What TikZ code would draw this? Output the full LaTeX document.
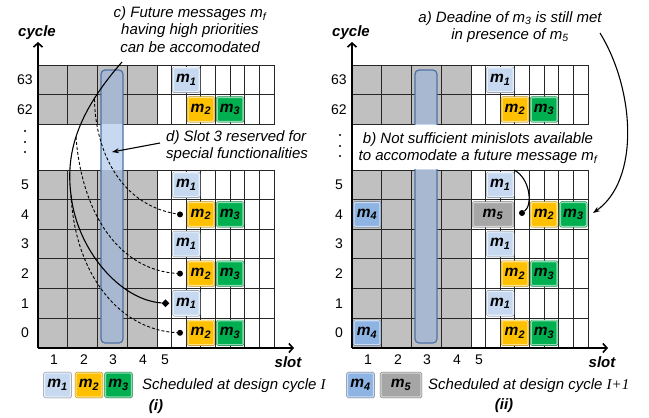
\documentclass[tikz,border=0pt]{standalone}
\usepackage{fontspec}
\setmainfont{Liberation Sans}
\newfontfamily\tnr{Liberation Serif}
\usetikzlibrary{shapes.geometric,arrows.meta,shadows}
\definecolor{mone}{RGB}{198,217,241}
\definecolor{mtwo}{RGB}{255,192,0}
\definecolor{mthree}{RGB}{0,176,80}
\definecolor{mfour}{RGB}{141,180,226}
\definecolor{mfive}{RGB}{166,166,166}
\definecolor{slotgray}{RGB}{192,192,192}
\definecolor{resL}{RGB}{199,217,241}
\definecolor{resD}{RGB}{168,184,208}
\definecolor{resB}{RGB}{79,113,165}
\newcommand{\mlab}[1]{m\textsubscript{#1}}
\tikzset{
  msg/.style={rounded corners=1.2pt, minimum height=24pt, minimum width=26pt, inner sep=0pt,
    font=\fontsize{15.5}{15.5}\selectfont\bfseries\itshape, line width=1.3pt,
    drop shadow={opacity=0.3, shadow xshift=1.2pt, shadow yshift=-1.2pt}},
  msgA/.style={msg, fill=mone, draw=mone!40!white, preaction={draw=mone!60!black, line width=2.1pt}},
  msgB/.style={msg, fill=mtwo, draw=mtwo!45!white, preaction={draw=mtwo!70!black, line width=2.1pt}},
  msgC/.style={msg, fill=mthree, draw=mthree!45!white, preaction={draw=mthree!70!black, line width=2.1pt}},
  msgD/.style={msg, fill=mfour, draw=mfour!45!white, preaction={draw=mfour!60!black, line width=2.1pt}},
  msgE/.style={msg, minimum width=40pt, fill=mfive, draw=mfive!45!white, preaction={draw=mfive!70!black, line width=2.1pt}},
  gridline/.style={draw=black!85, line width=0.8pt},
  axis/.style={line width=1.6pt, -{Straight Barb[length=4pt,width=9pt]}},
  rowlab/.style={font=\fontsize{14}{14}\selectfont, inner sep=0pt},
  axlab/.style={font=\fontsize{15}{15}\selectfont\bfseries\itshape, inner sep=0pt},
  anno/.style={font=\fontsize{15}{17.5}\selectfont\itshape, inner sep=0pt},
  dotn/.style={circle, fill=black, inner sep=0pt, minimum size=6pt},
  dian/.style={diamond, fill=black, inner sep=0pt, minimum size=8pt},
  curve/.style={line width=1.1pt},
  dcurve/.style={line width=0.9pt, dash pattern=on 3pt off 2pt},
  arr/.style={line width=1.1pt, -{Stealth[length=7pt,width=5pt]}}
}
\begin{document}
\begin{tikzpicture}[x=1pt,y=-1pt]
\useasboundingbox (0,0) rectangle (649,418);
\fill[white] (0,0) rectangle (649,418);
\foreach \P/\dx in {L/0,R/314}{
\begin{scope}[xshift=\dx pt]
  \fill[slotgray] (38,65) rectangle (157,124.2);
  \fill[slotgray] (38,170) rectangle (157,347.6);
  \foreach \x in {67.75,97.5,127.25,157,171.625,186.25,200.875,215.5,230.125,244.75,259.375}{
    \draw[gridline] (\x,65) -- (\x,124.2);
    \draw[gridline] (\x,170) -- (\x,347.6);
  }
  \draw[gridline] (38,94.6) -- (274,94.6);
  \foreach \y in {199.6,229.2,258.8,288.4,318}{\draw[gridline] (38,\y) -- (274,\y);}
  \draw[gridline, line width=1pt] (38,65) rectangle (274,124.2);
  \draw[gridline, line width=1pt] (38,170) rectangle (274,347.6);
  % reserved slot 3
  \begin{scope}
    \clip[rounded corners=4pt] (101,70) rectangle (123,343);
    \fill[resL] (101,70) rectangle (123,343);
    \fill[resD] (101,65) rectangle (123,124.2);
    \fill[resD] (101,170) rectangle (123,348);
  \end{scope}
  \draw[resB, line width=1.2pt, rounded corners=4pt] (101,70) rectangle (123,343);
  % axes
  \coordinate (\P o) at (38,348);
  \coordinate (\P yt) at (38,42);
  \coordinate (\P xt) at (294,348);
  \draw[axis] (\P o) -- (\P yt);
  \draw[axis] (\P o) -- (\P xt);
  \node[axlab] (\P cyc) at (37,33) {cycle};
  \node[axlab] (\P slot) at (288,362) {slot};
  % row labels
  \node[rowlab] (\P r63) at (25,79.8) {63};
  \node[rowlab] (\P r62) at (25,109.4) {62};
  \node[rowlab] (\P r5) at (25,184.8) {5};
  \node[rowlab] (\P r4) at (25,214.4) {4};
  \node[rowlab] (\P r3) at (25,244) {3};
  \node[rowlab] (\P r2) at (25,273.6) {2};
  \node[rowlab] (\P r1) at (25,303.2) {1};
  \node[rowlab] (\P r0) at (25,332.8) {0};
  % slot labels
  \node[rowlab] (\P s1) at (54,360) {1};
  \node[rowlab] (\P s2) at (84,360) {2};
  \node[rowlab] (\P s3) at (113,360) {3};
  \node[rowlab] (\P s4) at (143,360) {4};
  \node[rowlab] (\P s5) at (165,360) {5};
\end{scope}
}
% vertical ellipses
\fill (25,131) circle (1.2pt) (25,142) circle (1.2pt) (25,152) circle (1.2pt);
\fill (340,135) circle (1.2pt) (340,146) circle (1.2pt) (340,156) circle (1.2pt);
% white band in right panel gap
\fill[white] (352.7,124.9) rectangle (587.3,169.3);

% ---- left panel messages
\node[msgA] (L63a) at (186.3,79.8) {\mlab1};
\node[msgB] (L62b) at (200.9,109.4) {\mlab2};
\node[msgC] (L62c) at (230.1,109.4) {\mlab3};
\node[msgA] (L5a) at (186.3,184.8) {\mlab1};
\node[msgB] (L4b) at (200.9,214.4) {\mlab2};
\node[msgC] (L4c) at (230.1,214.4) {\mlab3};
\node[msgA] (L3a) at (186.3,244) {\mlab1};
\node[msgB] (L2b) at (200.9,273.6) {\mlab2};
\node[msgC] (L2c) at (230.1,273.6) {\mlab3};
\node[msgA] (L1a) at (186.3,303.2) {\mlab1};
\node[msgB] (L0b) at (200.9,332.8) {\mlab2};
\node[msgC] (L0c) at (230.1,332.8) {\mlab3};

% ---- right panel messages
\node[msgA] (R63a) at (500.3,79.8) {\mlab1};
\node[msgB] (R62b) at (514.9,109.4) {\mlab2};
\node[msgC] (R62c) at (544.1,109.4) {\mlab3};
\node[msgA] (R5a) at (500.3,184.8) {\mlab1};
\node[msgD] (R4d) at (367,214.4) {\mlab4};
\node[msgE] (R4e) at (492.9,214.4) {\mlab5};
\node[msgB] (R4b) at (544.1,214.4) {\mlab2};
\node[msgC] (R4c) at (573.4,214.4) {\mlab3};
\node[msgA] (R3a) at (500.3,244) {\mlab1};
\node[msgB] (R2b) at (514.9,273.6) {\mlab2};
\node[msgC] (R2c) at (544.1,273.6) {\mlab3};
\node[msgA] (R1a) at (500.3,303.2) {\mlab1};
\node[msgD] (R0d) at (367,332.8) {\mlab4};
\node[msgB] (R0b) at (514.9,332.8) {\mlab2};
\node[msgC] (R0c) at (544.1,332.8) {\mlab3};

% ---- legend
\node[msgA] (LgA) at (57.5,385) {\mlab1};
\node[msgB] (LgB) at (89,385) {\mlab2};
\node[msgC] (LgC) at (118.5,385) {\mlab3};
\node[anno, anchor=west] (LgT) at (142,386) {Scheduled at design cycle {\tnr\itshape I}};
\node[axlab] (capi) at (156,407) {(i)};
\node[msgD] (RgD) at (360.5,385) {\mlab4};
\node[msgE] (RgE) at (401,385) {\mlab5};
\node[anno, anchor=west] (RgT) at (428,386) {Scheduled at design cycle {\tnr\itshape I+1}};
\node[axlab] (capii) at (504,406) {(ii)};

% ---- markers
\node[dotn] (Ld4) at (180,214.4) {};
\node[dotn] (Ld2) at (180,273.6) {};
\node[dotn] (Ld0) at (180,332.8) {};
\node[dian] (Ldia) at (165.5,303.2) {};
\node[dotn] (Rdot) at (522,213) {};

% ---- annotations
\node[anno, align=center] (tc) at (190,29.5) {c) Future messages \mlab{f}\\having high priorities\\can be accomodated};
\node[anno, align=left, anchor=west] (td) at (166,146) {d) Slot 3 reserved for\\special functionalities};
\node[anno, align=center] (ta) at (510,27) {a) Deadine of \mlab{3} is still met\\in presence of \mlab{5}};
\node[anno, align=center] (tb) at (478,148) {b) Not sufficient minislots available\\to accomodate a future message \mlab{f}};

% ---- curves
\coordinate (cst) at (122,62);
\coordinate (cA) at (94.5,99);
\coordinate (cB) at (76,137);
\coordinate (cC) at (71,195);
\draw[curve] (cst) .. controls (80,110) and (65,150) .. (cC) .. controls (77,250) and (120,300) .. (Ldia);
\draw[dcurve] (cA) .. controls (95,150) and (120,205) .. (Ld4);
\draw[dcurve] (cB) .. controls (82,215) and (120,270) .. (Ld2);
\draw[dcurve] (cC) .. controls (75,275) and (120,330) .. (Ld0);
\coordinate (dst) at (160,143);
\coordinate (dend) at (112,152);
\draw[arr] (dst) -- (dend);
\coordinate (ast) at (600,33);
\coordinate (aend) at (593,213);
\draw[arr] (ast) .. controls (635,90) and (640,180) .. (aend);
\coordinate (bst) at (514,170);
\draw[curve] (bst) .. controls (530,178) and (533,205) .. (Rdot);
\end{tikzpicture}
\end{document}
